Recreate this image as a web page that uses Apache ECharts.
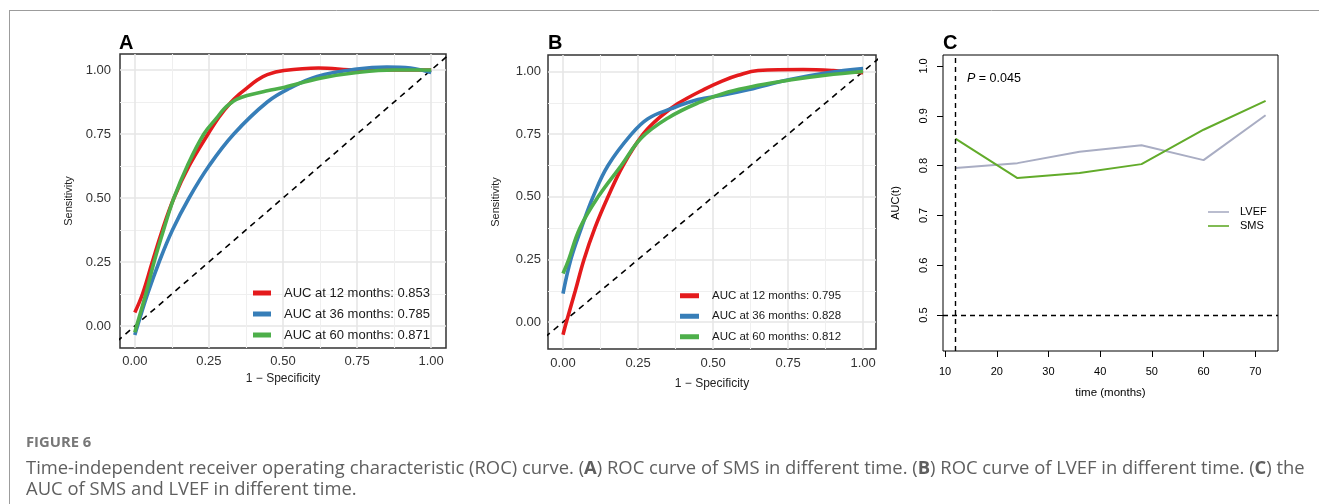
<!DOCTYPE html>
<html>
<head>
<meta charset="utf-8">
<script src="https://cdn.jsdelivr.net/npm/echarts@6/dist/echarts.min.js"></script>
<style>
html, body { margin: 0; padding: 0; background: #fff; }
#chart { width: 1319px; height: 504px; }
</style>
</head>
<body>
<div id="chart"></div>
<script>
// Panel A: ROC of SMS, points are [1 - specificity, sensitivity]
const smsRoc12 = [[0, 0.053], [0.026, 0.125], [0.059, 0.25], [0.093, 0.375], [0.132, 0.5], [0.183, 0.625], [0.247, 0.75], [0.285, 0.818], [0.323, 0.872], [0.352, 0.905], [0.379, 0.93], [0.412, 0.96], [0.447, 0.982], [0.503, 0.998], [0.62, 1.008], [0.75, 1.0], [1, 1.0]];
const smsRoc36 = [[0, -0.035], [0.009, 0], [0.043, 0.125], [0.082, 0.25], [0.127, 0.375], [0.183, 0.5], [0.25, 0.625], [0.334, 0.75], [0.447, 0.875], [0.525, 0.93], [0.615, 0.975], [0.75, 1.004], [0.85, 1.012], [0.93, 1.008], [1, 0.99]];
const smsRoc60 = [[0, -0.025], [0.006, 0], [0.037, 0.125], [0.065, 0.25], [0.097, 0.375], [0.132, 0.5], [0.177, 0.625], [0.233, 0.75], [0.278, 0.815], [0.3, 0.847], [0.323, 0.87], [0.345, 0.886], [0.379, 0.9], [0.447, 0.919], [0.503, 0.932], [0.626, 0.968], [0.75, 0.99], [0.875, 1.0], [1, 1.0]];
const smsLabels = ['AUC at 12 months: 0.853', 'AUC at 36 months: 0.785', 'AUC at 60 months: 0.871'];

// Panel B: ROC of LVEF
const lvefRoc12 = [[0, -0.05], [0.011, 0], [0.041, 0.125], [0.07, 0.25], [0.106, 0.375], [0.15, 0.5], [0.2, 0.625], [0.267, 0.75], [0.325, 0.82], [0.383, 0.872], [0.472, 0.93], [0.53, 0.962], [0.583, 0.985], [0.65, 1.004], [0.8, 1.008], [0.9, 1.004], [1, 0.995]];
const lvefRoc36 = [[0, 0.114], [0.026, 0.25], [0.061, 0.375], [0.1, 0.5], [0.15, 0.625], [0.228, 0.75], [0.283, 0.812], [0.361, 0.852], [0.45, 0.888], [0.53, 0.905], [0.62, 0.928], [0.756, 0.968], [0.88, 0.995], [1, 1.012]];
const lvefRoc60 = [[0, 0.194], [0.019, 0.25], [0.056, 0.375], [0.117, 0.5], [0.194, 0.625], [0.261, 0.735], [0.35, 0.815], [0.45, 0.875], [0.55, 0.918], [0.65, 0.945], [0.75, 0.965], [0.875, 0.985], [1, 1.0]];
const lvefLabels = ['AUC at 12 months: 0.795', 'AUC at 36 months: 0.828', 'AUC at 60 months: 0.812'];

// chance line y = x
const diagonal = [[-0.2, -0.2], [1.2, 1.2]];

// Panel C: AUC(t) over time
const months = [12, 24, 36, 48, 60, 72];
const lvefAuc = [0.795, 0.805, 0.828, 0.841, 0.811, 0.901];
const smsAuc = [0.854, 0.775, 0.785, 0.803, 0.872, 0.930];
const cutoffMonth = 12;
const refAuc = 0.5;

// tick labels
const rocTicks = [0, 0.25, 0.5, 0.75, 1];
const rocMinor = [0.125, 0.375, 0.625, 0.875];
const monthTicks = [10, 20, 30, 40, 50, 60, 70];
const aucTicks = [0.5, 0.6, 0.7, 0.8, 0.9, 1.0];

const font = '"Liberation Sans", Arial, sans-serif';
const capFont = '"Open Sans", "Noto Sans", sans-serif';
const rocColors = ['#e41a1c', '#377eb8', '#4daf4a'];

const chart = echarts.init(document.getElementById('chart'));

/**
 * Major + minor axis pair for a ROC panel
 */
function rocAxes(grid, dim, range, name, nameGap, margin) {
  const isX = dim === 'x';
  const major = {
    type: 'value',
    gridIndex: grid,
    min: range[0],
    max: range[1],
    position: isX ? 'bottom' : 'left',
    axisLine: {show: false, onZero: false},
    axisTick: {show: false, customValues: rocTicks},
    axisLabel: {
      customValues: rocTicks,
      formatter: (v) => v.toFixed(2),
      color: '#333',
      fontSize: 13,
      fontFamily: font,
      margin: margin,
    },
    splitLine: {show: true, lineStyle: {color: '#e6e6e6', width: 1.6}},
    name: name,
    nameLocation: 'middle',
    nameGap: nameGap,
    nameTextStyle: {color: '#222', fontSize: isX ? 12 : 11, fontFamily: font},
  };
  const minor = {
    type: 'value',
    gridIndex: grid,
    min: range[0],
    max: range[1],
    position: isX ? 'top' : 'right',
    axisLine: {show: false, onZero: false},
    axisTick: {show: false, customValues: rocMinor},
    axisLabel: {show: false},
    splitLine: {show: true, lineStyle: {color: '#efefef', width: 1.1}},
  };
  return [major, minor];
}

const xAxes = [
  ...rocAxes(0, 'x', [-0.05, 1.05], '1 \u2212 Specificity', 25, 7),
  ...rocAxes(1, 'x', [-0.05, 1.043], '1 \u2212 Specificity', 29, 7.5),
  {
    type: 'value',
    gridIndex: 2,
    min: 9.6,
    max: 74.4,
    axisLine: {show: false, onZero: false},
    axisTick: {show: true, length: 6, customValues: monthTicks, lineStyle: {color: '#000', width: 1}},
    axisLabel: {customValues: monthTicks, color: '#000', fontSize: 11, fontFamily: font, margin: 15},
    splitLine: {show: false},
    name: 'time (months)',
    nameLocation: 'middle',
    nameGap: 36,
    nameTextStyle: {color: '#000', fontSize: 11.5, fontFamily: font},
  },
];

const yAxes = [
  ...rocAxes(0, 'y', [-0.086, 1.0625], 'Sensitivity', 46, 9),
  ...rocAxes(1, 'y', [-0.107, 1.066], 'Sensitivity', 47, 7),
  {
    type: 'value',
    gridIndex: 2,
    min: 0.428,
    max: 1.022,
    axisLine: {show: false, onZero: false},
    axisTick: {show: true, length: 6, customValues: aucTicks, lineStyle: {color: '#000', width: 1}},
    axisLabel: {
      customValues: aucTicks,
      formatter: (v) => v.toFixed(1),
      rotate: 90,
      color: '#000',
      fontSize: 11,
      fontFamily: font,
      margin: 14,
    },
    splitLine: {show: false},
    name: 'AUC(t)',
    nameLocation: 'middle',
    nameGap: 42,
    nameTextStyle: {color: '#000', fontSize: 11, fontFamily: font},
  },
];

const series = [];
const rocPanels = [
  {curves: [smsRoc12, smsRoc36, smsRoc60], labels: smsLabels},
  {curves: [lvefRoc12, lvefRoc36, lvefRoc60], labels: lvefLabels},
];
rocPanels.forEach((panel, p) => {
  series.push({
    name: 'chance' + p,
    type: 'line',
    xAxisIndex: p * 2,
    yAxisIndex: p * 2,
    data: diagonal,
    showSymbol: false,
    silent: true,
    lineStyle: {color: '#000', width: 1.6, type: [6, 5]},
    z: 2,
  });
  panel.curves.forEach((curve, i) => {
    series.push({
      name: panel.labels[i],
      type: 'line',
      xAxisIndex: p * 2,
      yAxisIndex: p * 2,
      data: curve,
      smooth: 0.4,
      showSymbol: false,
      color: rocColors[i],
      lineStyle: {color: rocColors[i], width: 3.6},
      z: 3,
    });
  });
});

series.push({
  name: 'LVEF',
  type: 'line',
  xAxisIndex: 4,
  yAxisIndex: 4,
  data: months.map((m, i) => [m, lvefAuc[i]]),
  showSymbol: false,
  color: '#a9adc3',
  lineStyle: {color: '#a9adc3', width: 2},
});
series.push({
  name: 'SMS',
  type: 'line',
  xAxisIndex: 4,
  yAxisIndex: 4,
  data: months.map((m, i) => [m, smsAuc[i]]),
  showSymbol: false,
  color: '#62ab2a',
  lineStyle: {color: '#62ab2a', width: 2},
  markLine: {
    silent: true,
    symbol: ['none', 'none'],
    label: {show: false},
    lineStyle: {color: '#000', width: 1.4, type: [5, 4]},
    data: [{xAxis: cutoffMonth}, {yAxis: refAuc}],
  },
});

function rocLegend(labels, left, top, w, size, lh) {
  return {
    data: labels,
    orient: 'vertical',
    left: left,
    top: top,
    icon: 'rect',
    itemWidth: w,
    itemHeight: 5,
    itemGap: 0,
    selectedMode: false,
    textStyle: {color: '#1a1a1a', fontSize: size, fontFamily: font, lineHeight: lh, padding: [0, 0, 0, 8]},
  };
}

function panelLetter(text, x) {
  return {
    type: 'text',
    x: x,
    y: 33,
    style: {text: text, fontSize: 20, fontWeight: 'bold', fontFamily: font, fill: '#000', align: 'left', verticalAlign: 'top'},
  };
}

const option = {
  animation: false,
  backgroundColor: '#fff',
  grid: [
    {left: 120, top: 54, width: 326, height: 294, show: true, borderColor: '#333', borderWidth: 1.5, backgroundColor: '#fff', outerBoundsMode: 'none'},
    {left: 548, top: 55, width: 328, height: 294, show: true, borderColor: '#333', borderWidth: 1.5, backgroundColor: '#fff', outerBoundsMode: 'none'},
    {left: 943, top: 55, width: 335, height: 296, show: true, borderColor: '#000', borderWidth: 1, backgroundColor: '#fff', outerBoundsMode: 'none'},
  ],
  xAxis: xAxes,
  yAxis: yAxes,
  legend: [
    rocLegend(smsLabels, 248, 277.5, 18, 13, 21),
    rocLegend(lvefLabels, 675, 280.5, 19, 11.5, 20.5),
    {
      data: ['LVEF', 'SMS'],
      orient: 'vertical',
      left: 1203,
      top: 200,
      icon: 'rect',
      itemWidth: 21,
      itemHeight: 1.6,
      itemGap: 0,
      selectedMode: false,
      textStyle: {color: '#000', fontSize: 11, fontFamily: font, lineHeight: 14, padding: [0, 0, 0, 6]},
    },
  ],
  graphic: [
    // figure frame
    {type: 'line', shape: {x1: 9, y1: 10.5, x2: 1319, y2: 10.5}, style: {stroke: '#9c9c9c', lineWidth: 1}},
    {type: 'line', shape: {x1: 9.5, y1: 10, x2: 9.5, y2: 504}, style: {stroke: '#9c9c9c', lineWidth: 1}},
    panelLetter('A', 119),
    panelLetter('B', 548),
    panelLetter('C', 943),
    {
      type: 'text',
      x: 967,
      y: 72,
      style: {
        text: '{i|P} = 0.045',
        fontSize: 12.5,
        fontFamily: font,
        fill: '#000',
        verticalAlign: 'top',
        rich: {i: {fontStyle: 'italic', fontSize: 12.5, fontFamily: font, fill: '#000'}},
      },
    },
    {
      type: 'text',
      x: 26,
      y: 435,
      style: {text: 'FIGURE 6', fontSize: 14.8, fontWeight: 'bold', fontFamily: capFont, fill: '#777', verticalAlign: 'top'},
    },
    {
      type: 'text',
      x: 26,
      y: 460,
      style: {
        text: 'Time-independent receiver operating characteristic (ROC) curve. ({b|A}) ROC curve of SMS in different time. ({b|B}) ROC curve of LVEF in different time. ({b|C}) the',
        fontSize: 18.4,
        fontFamily: capFont,
        fill: '#5f5f5f',
        verticalAlign: 'top',
        rich: {b: {fontWeight: 'bold', fontSize: 18.4, fontFamily: capFont, fill: '#5f5f5f'}},
      },
    },
    {
      type: 'text',
      x: 26,
      y: 481,
      style: {text: 'AUC of SMS and LVEF in different time.', fontSize: 18.4, fontFamily: capFont, fill: '#5f5f5f', verticalAlign: 'top'},
    },
  ],
  series: series,
};

chart.setOption(option);
</script>
</body>
</html>
